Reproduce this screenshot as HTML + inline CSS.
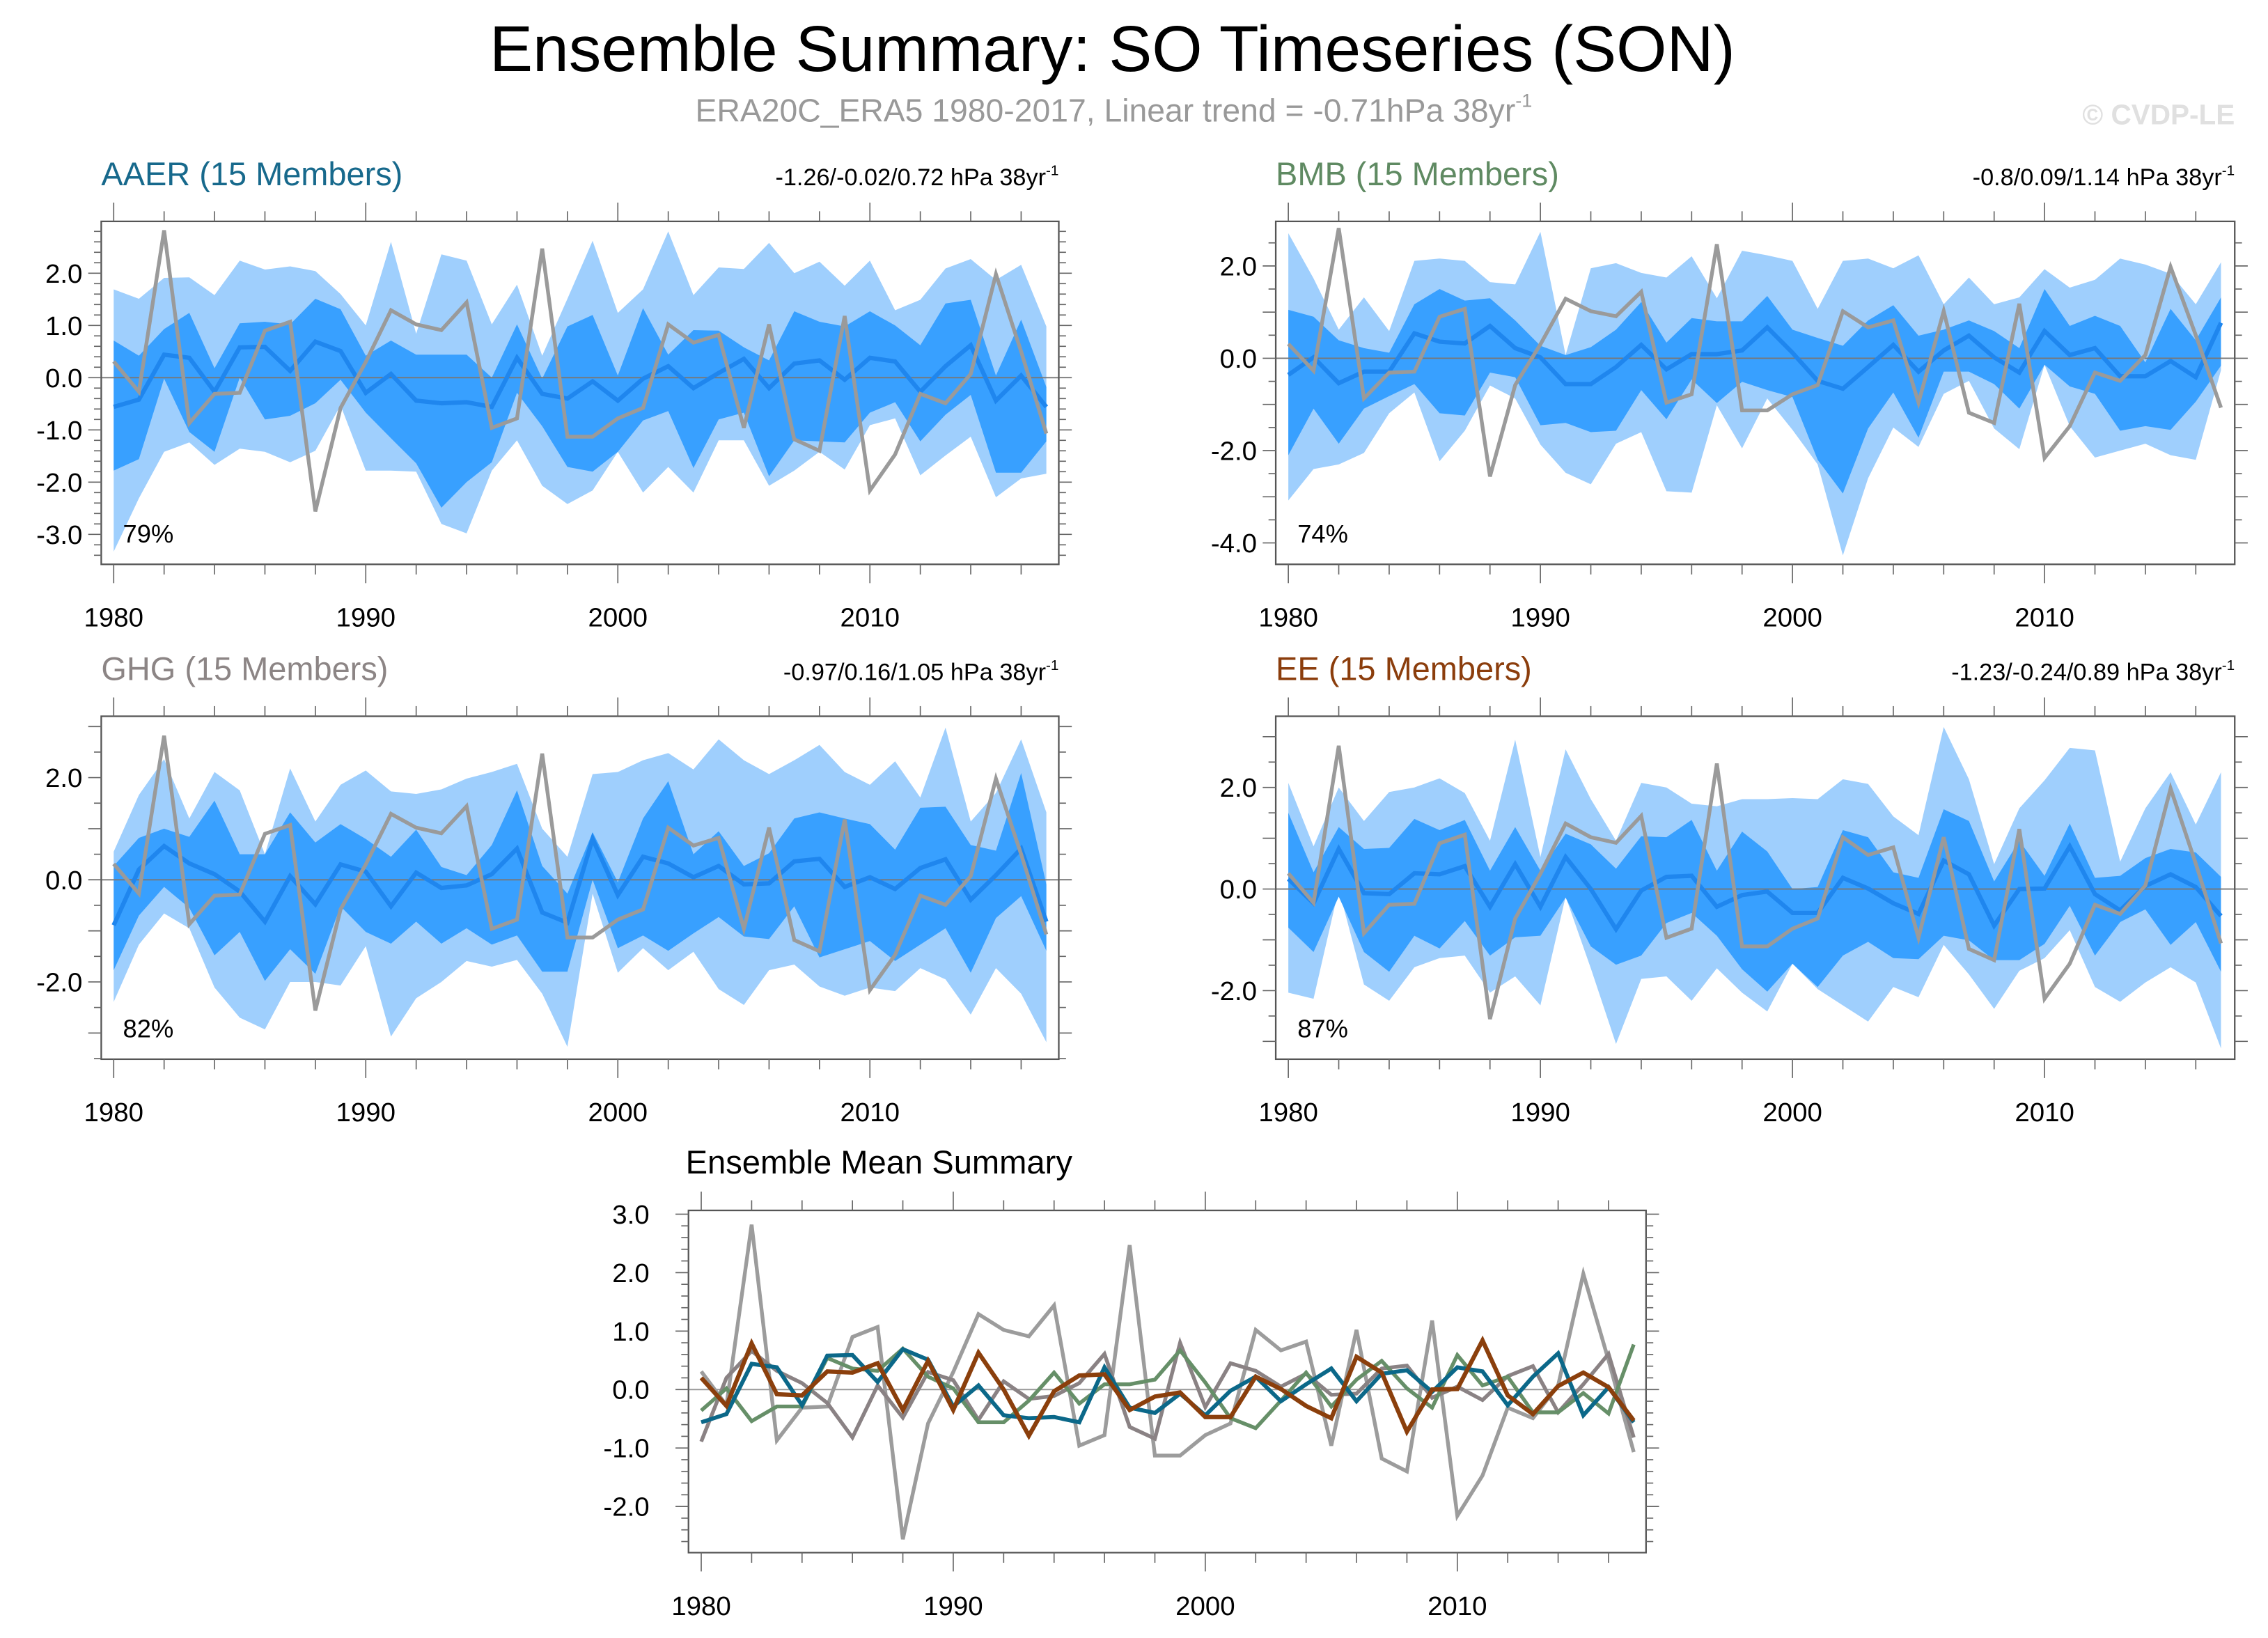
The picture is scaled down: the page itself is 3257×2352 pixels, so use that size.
<!DOCTYPE html>
<html><head><meta charset="utf-8">
<style>
html,body{margin:0;padding:0;background:#fff;}
svg{display:block;font-family:"Liberation Sans",sans-serif;}
</style></head>
<body>
<svg id="chart" xmlns="http://www.w3.org/2000/svg" width="3257" height="2352" viewBox="0 0 1568 1132" preserveAspectRatio="none">
<text x="769" y="49" font-size="44.8" text-anchor="middle" fill="#000">Ensemble Summary: SO Timeseries (SON)</text>
<text x="770" y="84" font-size="22.3" text-anchor="middle" fill="#999">ERA20C_ERA5 1980-2017, Linear trend = -0.71hPa 38yr<tspan font-size="13" dy="-10">-1</tspan></text>
<text x="1545" y="86" font-size="19.5" font-weight="bold" text-anchor="end" fill="#e0e0e0">© CVDP-LE</text>
<g id="plots"></g>
</svg>
<script>
const years = [];
for (let y = 1980; y <= 2017; y++) years.push(y);
const obs = [0.31,-0.27,2.82,-0.87,-0.31,-0.29,0.9,1.07,-2.56,-0.58,0.3,1.29,1.02,0.91,1.44,-0.96,-0.78,2.47,-1.13,-1.13,-0.78,-0.58,1.02,0.67,0.82,-0.96,1.02,-1.18,-1.4,1.18,-2.16,-1.47,-0.31,-0.49,0.07,1.98,0.5,-1.07];

const aaerMean = [-0.56,-0.42,0.44,0.38,-0.27,0.58,0.59,0.13,0.69,0.51,-0.29,0.07,-0.44,-0.49,-0.47,-0.56,0.38,-0.31,-0.4,-0.07,-0.44,-0.02,0.22,-0.2,0.09,0.36,-0.2,0.27,0.33,-0.04,0.38,0.31,-0.27,0.22,0.62,-0.44,0.04,-0.56];
const aaerDarkHi = [0.71,0.42,0.93,1.24,0.18,1.04,1.07,1.02,1.51,1.31,0.42,0.71,0.44,0.44,0.44,0,1.02,-0.02,0.98,1.2,0.04,1.33,0.44,0.91,0.9,0.58,0.33,1.27,1.07,0.98,1.27,1.0,0.62,1.42,1.49,0.04,1.11,-0.18];
const aaerDarkLo = [-1.78,-1.56,-0.02,-1.04,-1.42,0,-0.8,-0.73,-0.49,-0.04,-0.67,-1.16,-1.64,-2.49,-2,-1.62,-0.29,-0.93,-1.71,-1.8,-1.42,-0.82,-0.64,-1.73,-0.8,-0.67,-1.89,-1.2,-1.22,-1.24,-0.67,-0.47,-1.22,-0.71,-0.33,-1.82,-1.82,-1.22];
const aaerLightHi = [1.69,1.51,1.91,1.92,1.58,2.24,2.07,2.13,2.04,1.6,1.0,2.6,0.84,2.36,2.24,1.02,1.78,0.42,1.51,2.62,1.24,1.69,2.8,1.58,2.11,2.08,2.58,2.0,2.22,1.76,2.24,1.29,1.49,2.09,2.27,1.87,2.16,0.98];
const aaerLightLo = [-3.33,-2.31,-1.42,-1.24,-1.67,-1.36,-1.42,-1.62,-1.4,-0.53,-1.78,-1.78,-1.8,-2.8,-2.98,-1.78,-1.2,-2.07,-2.42,-2.16,-1.42,-2.2,-1.71,-2.2,-1.2,-1.2,-2.07,-1.78,-1.42,-1.76,-0.91,-0.78,-1.87,-1.49,-1.13,-2.29,-1.93,-1.84];

const bmbMean = [-0.36,0.02,-0.54,-0.29,-0.29,0.54,0.36,0.32,0.7,0.22,0.02,-0.56,-0.56,-0.19,0.29,-0.24,0.09,0.09,0.17,0.67,0.12,-0.49,-0.66,-0.19,0.29,-0.29,0.17,0.49,0.02,-0.31,0.59,0.07,0.22,-0.39,-0.39,-0.06,-0.41,0.77];
const bmbDarkHi = [1.05,0.9,0.39,0.22,0.12,1.17,1.5,1.25,1.3,0.82,0.27,0.07,0.24,0.62,1.22,0.34,0.87,0.8,0.8,1.35,0.62,0.44,0.27,0.82,1.15,0.49,0.62,0.82,0.59,0.22,1.5,0.7,0.92,0.7,-0.09,1.07,0.39,1.32];
const bmbDarkLo = [-2.1,-1.09,-1.85,-1.09,-0.82,-0.56,-1.19,-1.24,-0.31,-0.41,-1.45,-1.4,-1.6,-1.57,-0.69,-1.32,-0.46,-0.97,-0.51,-0.69,-0.84,-2.2,-2.93,-1.52,-0.74,-1.72,-0.29,-0.29,-0.56,-1.09,-0.14,-0.61,-0.77,-1.57,-1.47,-1.55,-0.94,-0.16];
const bmbLightHi = [2.71,1.73,0.62,1.32,0.59,2.11,2.16,2.11,1.65,1.6,2.74,0.07,1.95,2.06,1.85,1.75,2.21,1.3,2.33,2.23,2.11,1.07,2.11,2.16,1.95,2.23,1.17,1.75,1.17,1.32,1.93,1.53,1.7,2.16,2.03,1.83,1.17,2.08];
const bmbLightLo = [-3.08,-2.4,-2.3,-2.05,-1.19,-0.74,-2.23,-1.57,-0.59,-0.87,-1.87,-2.48,-2.73,-1.85,-1.6,-2.88,-2.91,-1.02,-1.95,-0.87,-1.55,-2.3,-4.27,-2.6,-1.5,-1.92,-0.77,-0.49,-1.52,-1.97,-0.14,-1.47,-2.15,-2.0,-1.85,-2.1,-2.2,-0.26];

const ghgMean = [-0.89,0.2,0.66,0.32,0.11,-0.23,-0.82,0.07,-0.48,0.3,0.16,-0.52,0.14,-0.16,-0.11,0.11,0.61,-0.64,-0.84,0.8,-0.3,0.45,0.32,0.05,0.27,-0.09,-0.07,0.36,0.41,-0.14,0.05,-0.18,0.23,0.4,-0.39,0.09,0.61,-0.82];
const ghgDarkHi = [0.27,0.82,1.0,0.84,1.55,0.5,0.5,1.32,0.73,1.09,0.8,0.45,0.98,0.25,0.09,0.68,1.75,0.27,-0.27,0.93,-0.05,1.2,1.93,0.5,0.95,0.27,0.52,1.2,1.32,1.2,1.09,0.59,1.41,1.43,0.68,0.57,2.09,-0.09];
const ghgDarkLo = [-1.77,-0.7,-0.14,-0.55,-1.48,-1.02,-1.98,-1.36,-1.84,-0.52,-1.02,-1.25,-0.82,-1.25,-0.95,-1.27,-1.09,-1.8,-1.8,0,-1.34,-1.09,-1.39,-1.05,-0.73,-1.11,-1.16,-0.52,-1.52,-1.36,-1.2,-1.59,-1.27,-0.95,-1.82,-0.75,-0.32,-1.39];
const ghgLightHi = [0.55,1.66,2.36,1.2,2.11,1.75,0.5,2.18,1.14,1.86,2.14,1.73,1.68,1.77,1.98,2.11,2.27,1.0,0.45,2.07,2.11,2.34,2.48,2.16,2.75,2.34,2.07,2.34,2.64,2.11,1.86,2.32,1.61,2.98,1.14,1.7,2.75,1.32];
const ghgLightLo = [-2.39,-1.27,-0.66,-0.95,-2.11,-2.7,-2.93,-2.0,-2.0,-2.07,-1.3,-3.07,-2.32,-2.0,-1.59,-1.7,-1.57,-2.23,-3.27,-0.27,-1.82,-1.34,-1.77,-1.41,-2.14,-2.45,-1.77,-1.66,-2.09,-2.27,-2.11,-2.18,-1.73,-1.95,-2.64,-1.73,-2.23,-3.18];

const eeMean = [0.2,-0.28,0.79,-0.08,-0.1,0.31,0.29,0.45,-0.35,0.49,-0.35,0.63,0,-0.79,-0.03,0.24,0.26,-0.35,-0.12,-0.05,-0.47,-0.47,0.22,0.01,-0.28,-0.49,0.56,0.29,-0.72,0,0.01,0.84,-0.1,-0.42,0.06,0.29,0.04,-0.53];
const eeDarkHi = [1.5,0.33,1.22,0.79,0.81,1.38,1.16,1.36,0.36,1.22,0.36,1.09,0.88,0.4,1.04,1.02,1.36,0.36,1.13,0.74,0,0.04,1.16,1.02,0.33,0.22,1.57,1.34,0.15,0.95,0.26,1.29,0.22,0.26,0.61,0.79,0.72,0.24];
const eeDarkLo = [-0.76,-1.24,-0.15,-1.24,-1.63,-0.92,-1.17,-0.63,-1.31,-0.95,-0.92,-0.17,-1.13,-1.49,-1.31,-0.67,-0.47,-0.92,-1.58,-2.02,-1.47,-1.93,-1.31,-1.04,-1.36,-1.38,-0.92,-1.01,-1.4,-1.4,-1.08,-0.33,-1.31,-0.65,-0.4,-1.1,-0.65,-1.63];
const eeLightHi = [2.09,0.84,2.0,1.34,1.91,2.0,2.18,1.89,0.95,2.94,0.63,2.75,1.77,0.95,2.09,2.0,1.68,1.63,1.77,1.77,1.79,1.77,2.16,2.07,1.43,1.06,3.19,2.16,0.49,1.59,2.14,2.78,2.73,0.54,1.59,2.3,1.27,2.3];
const eeLightLo = [-2.04,-2.16,0,-1.88,-2.2,-1.54,-1.36,-1.31,-2.04,-1.72,-2.29,-0.15,-1.56,-3.05,-1.77,-1.72,-2.2,-1.56,-2.04,-2.41,-1.47,-1.97,-2.29,-2.61,-1.93,-2.13,-1.1,-1.68,-2.36,-1.61,-1.36,-0.81,-1.93,-2.22,-1.84,-1.54,-1.84,-3.14];

const xTickLabels = ['1980','1990','2000','2010'];

const NS = 'http://www.w3.org/2000/svg';
const root = document.getElementById('plots');
function mk(tag, attrs, parent) {
  const e = document.createElementNS(NS, tag);
  for (const k in attrs) e.setAttribute(k, attrs[k]);
  (parent || root).appendChild(e);
  return e;
}
function fmt(v){ return v.toFixed(1); }

function axes(g, c, xs, ys) {
  const [L,T,R,B] = c.box;
  const bx = mk('rect', {x:L, y:T, width:R-L, height:B-T, fill:'none', stroke:'#555', 'stroke-width':1.1}, g);
  
  
  for (let yr = 1980; yr <= 2017; yr += 2) {
    const major = (yr % 10 === 0);
    const len = major ? 13 : 7;
    const x = xs(yr);
    mk('line', {x1:x, x2:x, y1:B, y2:B+len, stroke:'#666', 'stroke-width':0.8}, g);
    mk('line', {x1:x, x2:x, y1:T, y2:T-len, stroke:'#666', 'stroke-width':0.8}, g);
  }
  xTickLabels.forEach(lbl => {
    const t = mk('text', {x:xs(+lbl), y:B+c.xlabOff, 'font-size':18.5, 'text-anchor':'middle', fill:'#000'}, g);
    t.textContent = lbl;
    
    
  });
  const vMin = (ys.inv(B)), vMax = ys.inv(T);
  const s = c.minor;
  for (let k = Math.ceil(vMin/s - 1e-6); k*s <= vMax + 1e-6; k++) {
    const v = k*s;
    const major = Math.abs(v/c.major - Math.round(v/c.major)) < 1e-6;
    const len = major ? 9 : 5;
    const y = ys(v);
    mk('line', {x1:L, x2:L-len, y1:y, y2:y, stroke:'#666', 'stroke-width':0.8}, g);
    mk('line', {x1:R, x2:R+len, y1:y, y2:y, stroke:'#666', 'stroke-width':0.8}, g);
  }
  c.yLabels.forEach(v => {
    const t = mk('text', {x:L-c.ylabGap, y:ys(v)+6.5, 'font-size':18.5, 'text-anchor':'end', fill:'#000'}, g);
    t.textContent = fmt(v);
    
    
  });
}

function makeScales(c) {
  const xs = yr => c.x0 + (yr - 1980) * (c.x1 - c.x0) / 37;
  const ys = v => c.y0 - v * c.unit;
  ys.inv = py => (c.y0 - py) / c.unit;
  return [xs, ys];
}

function ptsStr(xs, ys, arr) { return arr.map((v,i) => xs(years[i]).toFixed(2)+','+ys(v).toFixed(2)).join(' '); }
function bandStr(xs, ys, hi, lo) {
  const a = hi.map((v,i) => xs(years[i]).toFixed(2)+','+ys(v).toFixed(2));
  const b = lo.map((v,i) => xs(years[i]).toFixed(2)+','+ys(v).toFixed(2)).reverse();
  return a.concat(b).join(' ');
}

function panel(c) {
  const g = mk('g', {});
  
  
  const [xs, ys] = makeScales(c);
  const [L,T,R,B] = c.box;
  const clip = mk('clipPath', {id:'clip-'+c.id}, g);
  mk('rect', {x:L, y:T, width:R-L, height:B-T}, clip);
  const pg = mk('g', {'clip-path':'url(#clip-'+c.id+')'}, g);
  const lb = mk('polygon', {points:bandStr(xs, ys, c.lightHi, c.lightLo), fill:'#9fcffd'}, pg);
  
  
  const db = mk('polygon', {points:bandStr(xs, ys, c.darkHi, c.darkLo), fill:'#38a0ff'}, pg);
  
  
  mk('line', {x1:L, x2:R, y1:ys(0), y2:ys(0), stroke:'#777', 'stroke-width':0.9}, pg);
  const ml = mk('polyline', {points:ptsStr(xs, ys, c.mean), fill:'none', stroke:'#1f86ee', 'stroke-width':3}, pg);
  
  
  const ol = mk('polyline', {points:ptsStr(xs, ys, obs), fill:'none', stroke:'#9a9a9a', 'stroke-width':2.6}, pg);
  
  
  axes(g, c, xs, ys);
  const t = mk('text', {x:L, y:T-25, 'font-size':22.6, fill:c.color}, g);
  t.textContent = c.title;
  
  
  const st = mk('text', {x:R, y:T-25, 'font-size':16.5, 'text-anchor':'end', fill:'#000'}, g);
  st.innerHTML = c.stats + ' hPa 38yr<tspan font-size="10" dy="-7">-1</tspan>';
  
  
  const pc = mk('text', {x:L+15, y:B-15, 'font-size':17.5, fill:'#000'}, g);
  pc.textContent = c.pct;
  
  
}

panel({id:'aaer', title:'AAER (15 Members)', color:'#17698c', stats:'-1.26/-0.02/0.72', pct:'79%',
  box:[70,153,732,390], x0:78.6, x1:723.4, y0:261, unit:36.1, minor:0.2, major:1, yLabels:[-3,-2,-1,0,1,2], ylabGap:13, xlabOff:43,
  mean:aaerMean, darkHi:aaerDarkHi, darkLo:aaerDarkLo, lightHi:aaerLightHi, lightLo:aaerLightLo});
panel({id:'bmb', title:'BMB (15 Members)', color:'#5f8a62', stats:'-0.8/0.09/1.14', pct:'74%',
  box:[882,153,1545,390], x0:890.7, x1:1535.5, y0:247.6, unit:31.9, minor:0.5, major:1, yLabels:[-4,-2,0,2], ylabGap:13, xlabOff:43,
  mean:bmbMean, darkHi:bmbDarkHi, darkLo:bmbDarkLo, lightHi:bmbLightHi, lightLo:bmbLightLo});
panel({id:'ghg', title:'GHG (15 Members)', color:'#8c8585', stats:'-0.97/0.16/1.05', pct:'82%',
  box:[70,495,732,732], x0:78.6, x1:723.4, y0:608, unit:35.3, minor:0.5, major:1, yLabels:[-2,0,2], ylabGap:13, xlabOff:43,
  mean:ghgMean, darkHi:ghgDarkHi, darkLo:ghgDarkLo, lightHi:ghgLightHi, lightLo:ghgLightLo});
panel({id:'ee', title:'EE (15 Members)', color:'#8b3d0c', stats:'-1.23/-0.24/0.89', pct:'87%',
  box:[882,495,1545,732], x0:890.7, x1:1535.5, y0:614.4, unit:35.1, minor:0.5, major:1, yLabels:[-2,0,2], ylabGap:13, xlabOff:43,
  mean:eeMean, darkHi:eeDarkHi, darkLo:eeDarkLo, lightHi:eeLightHi, lightLo:eeLightLo});

(function(){
  const c = {id:'summary', box:[476,836.5,1138,1073], x0:484.8, x1:1129.5, y0:960.3, unit:40.4, minor:0.2, major:1, yLabels:[-2,-1,0,1,2,3], ylabGap:27, xlabOff:43};
  const g = mk('g', {});
  
  
  const [xs, ys] = makeScales(c);
  const [L,T,R,B] = c.box;
  mk('line', {x1:L, x2:R, y1:ys(0), y2:ys(0), stroke:'#999', 'stroke-width':1}, g);
  const series = [
    ['observed', obs, '#9c9c9c', 2.6],
    ['ghg', ghgMean, '#8a8284', 2.6],
    ['bmb', bmbMean, '#668f68', 2.6],
    ['aaer', aaerMean, '#0b6889', 2.8],
    ['ee', eeMean, '#8b3f0c', 3]
  ];
  series.forEach(s => {
    const l = mk('polyline', {points:ptsStr(xs, ys, s[1]), fill:'none', stroke:s[2], 'stroke-width':s[3]}, g);
    
    
  });
  axes(g, c, xs, ys);
  const t = mk('text', {x:474, y:811, 'font-size':22.7, fill:'#000'}, g);
  t.textContent = 'Ensemble Mean Summary';
  
  
})();
</script>
</body></html>
